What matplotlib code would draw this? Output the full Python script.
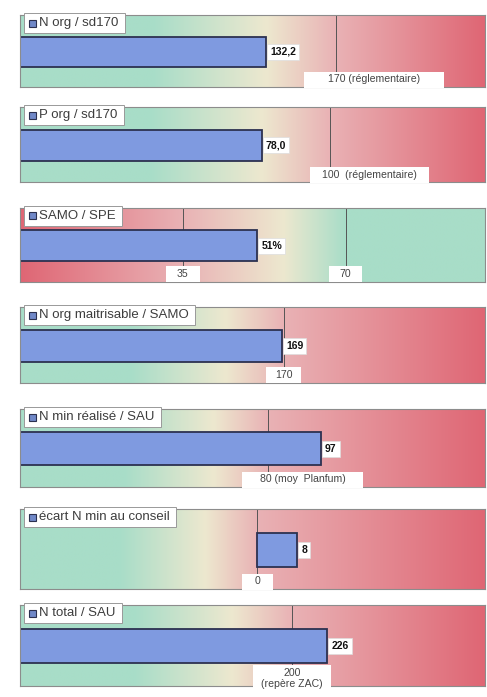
import numpy as np
import matplotlib
matplotlib.use("Agg")
import matplotlib.pyplot as plt
from matplotlib.colors import to_rgb
from matplotlib.patches import Rectangle
from matplotlib.transforms import IdentityTransform

plt.rcParams['font.family'] = ['Liberation Sans', 'DejaVu Sans']

# indicator data
labels = ['N org / sd170', 'P org / sd170', 'SAMO / SPE', 'N org maitrisable / SAMO',
          'N min réalisé / SAU', 'écart N min au conseil', 'N total / SAU']
values = [132.2, 78.0, 51, 169, 97, 8, 226]
value_texts = ['132,2', '78,0', '51%', '169', '97', '8', '226']
ref_values = [[170], [100], [35, 70], [170], [80], [0], [200]]
ref_texts = [['170 (réglementaire)'], ['100  (réglementaire)'], ['35', '70'], ['170'],
             ['80 (moy  Planfum)'], ['0'], ['200\n(repère ZAC)']]
x_ranges = [(0, 250), (0, 150), (0, 100), (0, 300), (0, 150), (-48, 46), (0, 342)]
high_is_bad = [True, True, False, True, True, True, True]

# layout (pixels): panel top / bottom, panel left / right
W, H = 487, 697
tops = [15, 107, 208, 307, 409, 509, 605]
bottoms = [87, 182, 282, 383, 487, 589, 686]
left_px, right_px = 20, 485
box_pad = [24, 12, 11, 9, 18, 13, 8]

green = np.array(to_rgb('#a8ddc8'))
cream = np.array(to_rgb('#ede8cf'))
pink = np.array(to_rgb('#e9b2b5'))
red = np.array(to_rgb('#df6674'))

fig = plt.figure(figsize=(W / 100, H / 100), dpi=100)
fig.patch.set_facecolor('white')

ref_artists = []
title_artists = []
for i in range(len(labels)):
    t, b = tops[i], bottoms[i]
    ax = fig.add_axes([left_px / W, 1 - b / H, (right_px - left_px) / W, (b - t) / H])
    x0, x1 = x_ranges[i]
    ax.set_xlim(x0, x1)
    ax.set_ylim(0, 1)

    # background gradient, anchored on the reference values
    xs = np.linspace(x0, x1, 600)
    if high_is_bad[i]:
        r = ref_values[i][0]
        pos = [x0, x0 + 0.42 * (r - x0), x0 + 0.78 * (r - x0), r, x1]
        cols = [green, green, cream, pink, red]
    else:
        lo, hi = ref_values[i]
        pos = [x0, lo, lo + 0.62 * (hi - lo), hi, x1]
        cols = [red, pink, cream, green, green]
    cols = np.array(cols)
    grad = np.stack([np.interp(xs, pos, cols[:, c]) for c in range(3)], axis=-1)
    ax.imshow(grad[np.newaxis, :, :], extent=[x0, x1, 0, 1], aspect='auto',
              interpolation='bilinear', zorder=0)

    for rv in ref_values[i]:
        ax.axvline(rv, color='#555555', lw=0.7, zorder=1)

    # bar
    ax.barh(0.49, values[i], height=0.42, color='#7f9ae0',
            edgecolor='#2c3150', linewidth=1.3, zorder=2)
    ax.annotate(value_texts[i], xy=(values[i], 0.49), xytext=(3, 0),
                textcoords='offset points', ha='left', va='center',
                fontsize=7.5, fontweight='bold', color='#111111', zorder=5,
                bbox=dict(boxstyle='square,pad=0.3', fc='white', ec='#dddddd', lw=0.5))

    # reference labels at the bottom edge
    for rv, rt in zip(ref_values[i], ref_texts[i]):
        long_label = len(rt) > 6 and '\n' not in rt
        txt = ax.annotate(rt, xy=(rv, 0), xycoords=('data', 'axes fraction'),
                          xytext=(-6 if long_label else 0, 5.4), textcoords='offset points',
                          ha='left' if long_label else 'center', va='center',
                          fontsize=7.6, color='#444444', zorder=5, linespacing=1.2,
                          annotation_clip=False)
        ref_artists.append((ax, txt, box_pad[i], b))

    # title tag (text now, box and blue square added after drawing)
    tt = ax.annotate(labels[i], xy=(0.012, 1 - 8 / (b - t)), xycoords='axes fraction',
                     xytext=(10, 0), textcoords='offset points', ha='left', va='center',
                     fontsize=9.5, color='#3d3d3d', zorder=7, annotation_clip=False)
    title_artists.append((ax, tt))

    ax.set_xticks([])
    ax.set_yticks([])
    for s in ax.spines.values():
        s.set_color('#8c8c8c')
        s.set_linewidth(0.8)

fig.canvas.draw()
renderer = fig.canvas.get_renderer()

# white boxes behind the reference labels, sized from the rendered text
for ax, txt, pad, b in ref_artists:
    bb = txt.get_window_extent(renderer)
    y_bottom = H - b
    y0 = min(y_bottom, bb.y0 - 3)
    y1 = bb.y1 + 3
    ax.add_artist(Rectangle((bb.x0 - pad, y0), bb.width + 2 * pad, y1 - y0,
                            transform=IdentityTransform(), facecolor='white',
                            edgecolor='none', zorder=4, clip_on=False))

# title boxes with the small blue square marker
for ax, tt in title_artists:
    bb = tt.get_window_extent(renderer)
    bx0 = bb.x0 - 15
    ax.add_artist(Rectangle((bx0, bb.y0 - 4), bb.x1 + 6 - bx0, bb.height + 8,
                            transform=IdentityTransform(), facecolor='white',
                            edgecolor='#999999', lw=0.7, zorder=6, clip_on=False))
    cy = (bb.y0 + bb.y1) / 2
    ax.add_artist(Rectangle((bx0 + 5, cy - 3.5), 7, 7,
                            transform=IdentityTransform(), facecolor='#7088c8',
                            edgecolor='#2c3150', lw=0.8, zorder=7, clip_on=False))

fig.savefig('out.png', dpi=100, facecolor='white')
